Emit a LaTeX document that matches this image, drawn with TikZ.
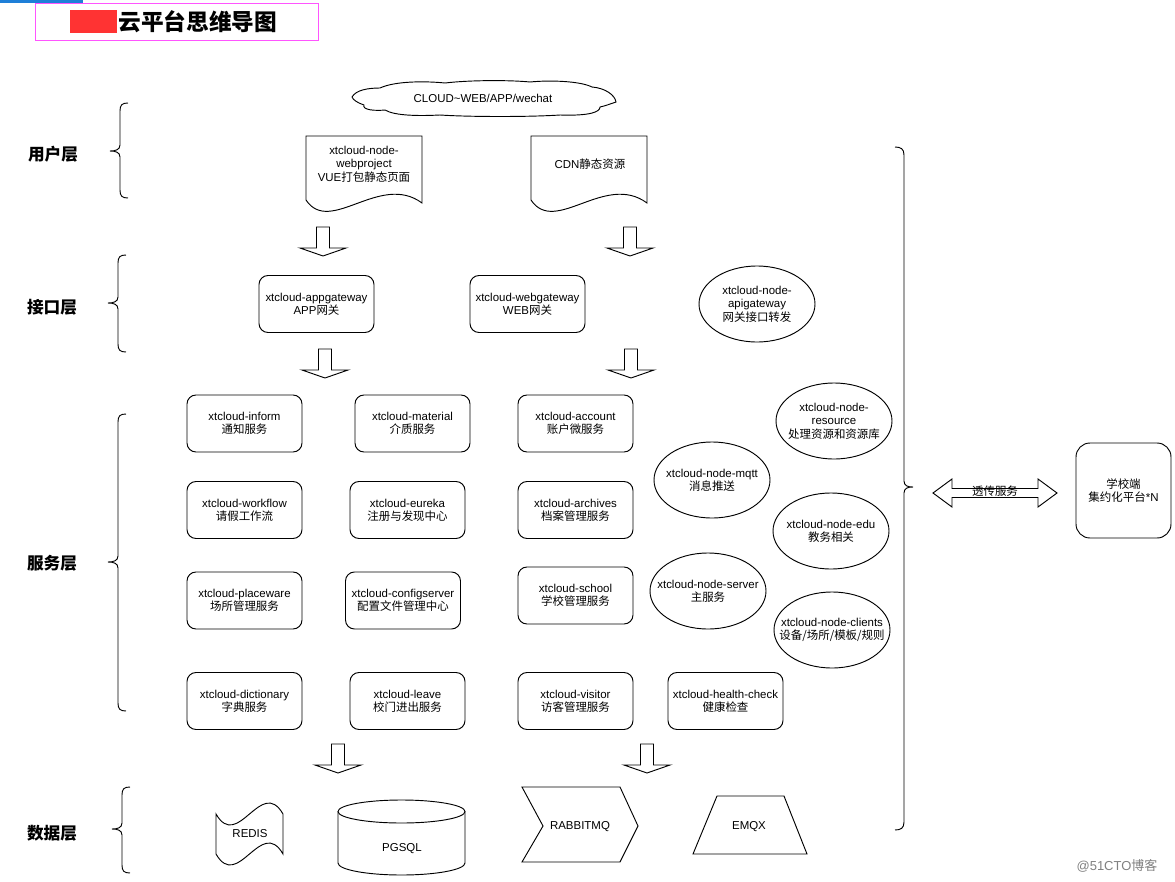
\documentclass[tikz,border=0pt]{standalone}
\usepackage{fontspec}
\setmainfont{Liberation Sans}
\newfontfamily\cjk{Noto Sans CJK SC}
\usetikzlibrary{shapes.geometric}
\newlength\px
\setlength\px{0.75pt}
\newcommand\zh[1]{{\cjk #1}}
\newcommand\nodefont{\fontsize{8.6}{10}\selectfont}
\definecolor{titlemag}{RGB}{255,85,255}
\definecolor{maskred}{RGB}{255,51,51}
\definecolor{topblue}{RGB}{30,127,216}

\begin{document}
\begin{tikzpicture}[x=0.75pt,y=-0.75pt,line width=0.7pt,
  svc/.style={draw,rounded corners=9\px,minimum width=115\px,minimum height=57\px,align=center,font=\nodefont,inner sep=0pt},
  oval/.style={draw,ellipse,minimum width=116\px,minimum height=76\px,align=center,font=\nodefont,inner xsep=-16pt,inner ysep=-6pt},
  txt/.style={align=center,font=\nodefont,inner sep=0pt},
  layer/.style={font=\fontsize{12.5}{14}\selectfont\bfseries\cjk}]
\useasboundingbox (0,0) rectangle (1175,882);
\fill[topblue] (0,0) rectangle (83,3);
\draw[titlemag] (35,3) rectangle (318,40);
\fill[maskred] (70,10) rectangle (117,33);
\node[anchor=west,inner sep=0pt,font=\fontsize{17}{19}\selectfont\bfseries\cjk] (title) at (118,22) {云平台思维导图};
\node[layer] (user) at (53,154) {用户层};
\node[layer] (api) at (52,307) {接口层};
\node[layer] (service) at (52,563) {服务层};
\node[layer] (data) at (52,833) {数据层};
\foreach \t/\m/\b/\xl in {103/151/198/110,255/303/352/108,414/562/711/108,787/829/873/112}
  \draw (\xl+18,\t) .. controls (\xl+12,\t) and (\xl+10,\t+2) .. (\xl+10,\t+8) -- (\xl+10,\m-6)
    .. controls (\xl+10,\m-1) and (\xl+5,\m) .. (\xl,\m) .. controls (\xl+5,\m) and (\xl+10,\m+1) .. (\xl+10,\m+6)
    -- (\xl+10,\b-8) .. controls (\xl+10,\b-2) and (\xl+12,\b) .. (\xl+18,\b);
\draw (352,97) .. controls (356,90) and (368,88) .. (380,88)
  .. controls (395,81) and (425,81) .. (445,83) .. controls (470,80) and (510,80) .. (530,82)
  .. controls (550,80) and (580,81) .. (592,87) .. controls (605,88) and (615,95) .. (616,102)
  .. controls (610,104) and (605,106) .. (600,107) .. controls (600,112) and (590,116) .. (560,115)
  .. controls (530,117) and (470,117) .. (440,115) .. controls (420,116) and (395,116) .. (385,110)
  .. controls (375,111) and (362,110) .. (364,105) .. controls (358,103) and (353,100) .. (352,97);
\node[txt] (cloud) at (483,98) {CLOUD\textasciitilde WEB/APP/wechat};
\draw (306,136) -- (422,136) -- (422,203) .. controls (380,172) and (330,236) .. (306,200) -- cycle;
\node[txt] (webproj) at (364,164) {xtcloud-node-\\webproject\\VUE\zh{打包静态页面}};
\draw (531,136) -- (647,136) -- (647,203) .. controls (605,172) and (555,236) .. (531,200) -- cycle;
\node[txt] (cdn) at (590,164) {CDN\zh{静态资源}};
\foreach \cx/\cy in {323/227,630/227,325/349,631/349,338/744,647/744}
  \draw (\cx-6.5,\cy) -- ++(13,0) -- ++(0,21) -- ++(16.5,0) -- ++(-23,8) -- ++(-23,-8) -- ++(16.5,0) -- cycle;
\node[svc] (appgw) at (316.5,304) {xtcloud-appgateway\\APP\zh{网关}};
\node[svc] (webgw) at (527.5,304) {xtcloud-webgateway\\WEB\zh{网关}};
\node[oval] (apigw) at (757,304) {xtcloud-node-\\apigateway\\\zh{网关接口转发}};
\node[svc] (inform) at (244.5,423.5) {xtcloud-inform\\\zh{通知服务}};
\node[svc] (material) at (412.5,423.5) {xtcloud-material\\\zh{介质服务}};
\node[svc] (account) at (575.5,423.5) {xtcloud-account\\\zh{账户微服务}};
\node[svc] (workflow) at (244.5,510) {xtcloud-workflow\\\zh{请假工作流}};
\node[svc] (eureka) at (407.5,510) {xtcloud-eureka\\\zh{注册与发现中心}};
\node[svc] (archives) at (575.5,510) {xtcloud-archives\\\zh{档案管理服务}};
\node[svc] (placeware) at (244.5,600.5) {xtcloud-placeware\\\zh{场所管理服务}};
\node[svc] (configserver) at (403,600.5) {xtcloud-configserver\\\zh{配置文件管理中心}};
\node[svc] (school) at (575.5,595.5) {xtcloud-school\\\zh{学校管理服务}};
\node[svc] (dictionary) at (244.5,701) {xtcloud-dictionary\\\zh{字典服务}};
\node[svc] (leave) at (407.5,701) {xtcloud-leave\\\zh{校门进出服务}};
\node[svc] (visitor) at (575.5,701) {xtcloud-visitor\\\zh{访客管理服务}};
\node[svc] (health) at (725.5,701) {xtcloud-health-check\\\zh{健康检查}};
\node[oval] (resource) at (834,421) {xtcloud-node-\\resource\\\zh{处理资源和资源库}};
\node[oval] (mqtt) at (712,480) {xtcloud-node-mqtt\\\zh{消息推送}};
\node[oval] (edu) at (831,531) {xtcloud-node-edu\\\zh{教务相关}};
\node[oval] (server) at (708,591) {xtcloud-node-server\\\zh{主服务}};
\node[oval] (clients) at (832,630) {xtcloud-node-clients\\\zh{设备/场所/模板/规则}};
\draw (895,147) .. controls (901,147) and (904,149) .. (904,155) -- (904,481)
  .. controls (904,486) and (908,487) .. (913,487) .. controls (908,487) and (904,488) .. (904,493)
  -- (904,822) .. controls (904,828) and (901,830) .. (895,830);
\draw (933,493) -- (952,479) -- (952,488.5) -- (1038,488.5) -- (1038,479) -- (1057,493)
  -- (1038,507) -- (1038,497.5) -- (952,497.5) -- (952,507) -- cycle;
\node[txt] (relay) at (995,491) {\zh{透传服务}};
\node[svc,rounded corners=14\px,minimum width=95\px,minimum height=95\px] (campus) at (1123.5,490.5) {\zh{学校端}\\\zh{集约化平台}*N};
\draw (216,814) .. controls (238,852) and (261,776) .. (283,814) -- (283,854)
  .. controls (261,816) and (238,892) .. (216,854) -- cycle;
\node[txt] (redis) at (250,834) {REDIS};
\draw (401.5,811.5) ellipse[x radius=63.5,y radius=11.5];
\draw (338,811.5) -- (338,863) arc[start angle=180,end angle=0,x radius=63.5,y radius=12] -- (465,811.5);
\node[txt] (pgsql) at (402,849) {PGSQL};
\draw (522,787) -- (620,787) -- (638,826) -- (620,862) -- (522,862) -- (543,826) -- cycle;
\node[txt] (rabbit) at (580,827) {RABBITMQ};
\draw (717,796) -- (784,796) -- (807,854) -- (693,854) -- cycle;
\node[txt] (emqx) at (749,827) {EMQX};
\node[font=\fontsize{9.75}{11}\selectfont,text=gray,inner sep=0pt] (mark) at (1117,866) {@51CTO\zh{博客}};
\end{tikzpicture}
\end{document}
